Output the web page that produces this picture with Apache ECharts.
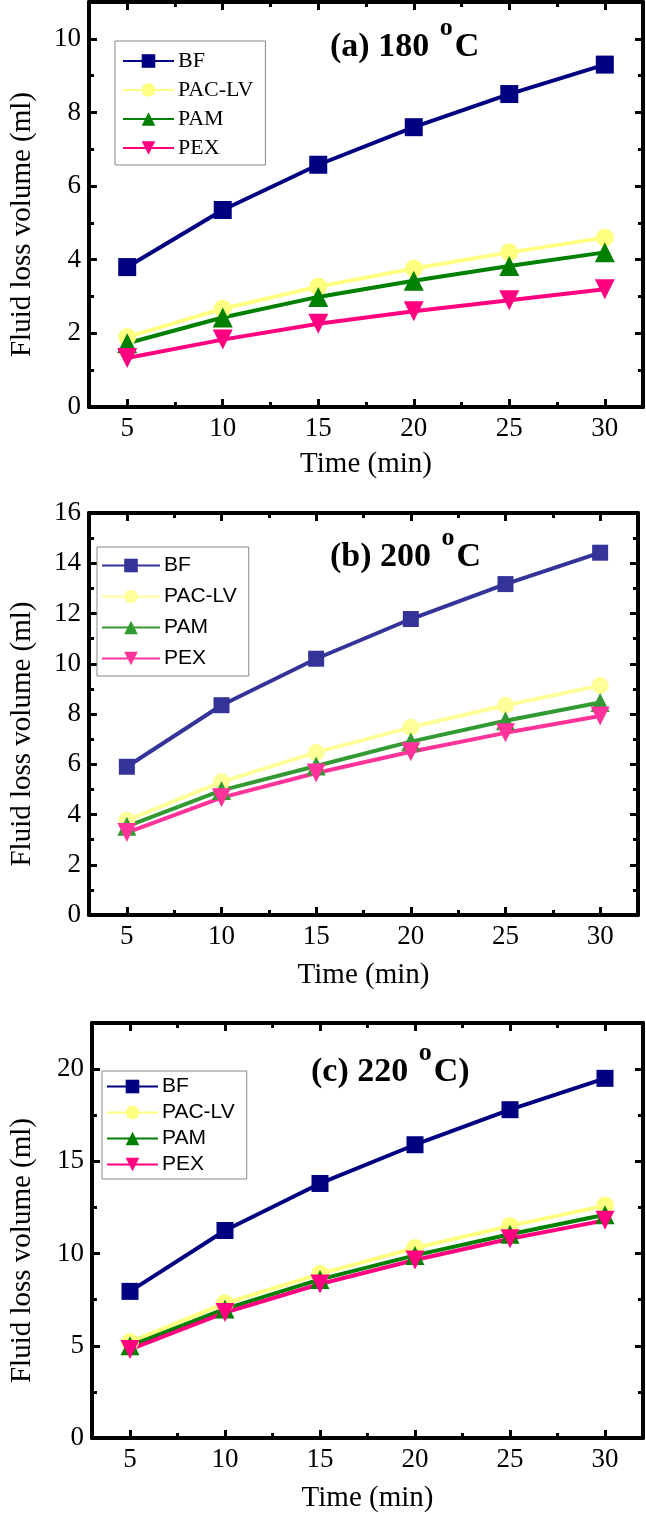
<!DOCTYPE html>
<html>
<head>
<meta charset="utf-8">
<script src="https://cdn.jsdelivr.net/npm/echarts@6/dist/echarts.min.js"></script>
<style>
html,body{margin:0;padding:0;background:#fff;}
#chart{width:646px;height:1514px;}
</style>
</head>
<body>
<div id="chart"></div>
<script>
// ---- data ----
const times = [5, 10, 15, 20, 25, 30];
const seriesNames = ['BF', 'PAC-LV', 'PAM', 'PEX'];
const xTicks = [5, 10, 15, 20, 25, 30];
const xMinorTicks = [7.5, 12.5, 17.5, 22.5, 27.5];

// (a) 180 oC
const bfA  = [3.8, 5.35, 6.58, 7.6, 8.5, 9.3];
const pacA = [1.9, 2.67, 3.27, 3.76, 4.2, 4.6];
const pamA = [1.73, 2.43, 2.99, 3.43, 3.83, 4.2];
const pexA = [1.33, 1.83, 2.26, 2.6, 2.9, 3.2];
const yTicksA = [0, 2, 4, 6, 8, 10];
const yMinorA = [1, 3, 5, 7, 9];

// (b) 200 oC
const bfB  = [5.9, 8.35, 10.2, 11.78, 13.17, 14.42];
const pacB = [3.77, 5.3, 6.47, 7.47, 8.35, 9.13];
const pamB = [3.53, 4.96, 5.93, 6.9, 7.73, 8.46];
const pexB = [3.28, 4.67, 5.65, 6.5, 7.25, 7.92];
const yTicksB = [0, 2, 4, 6, 8, 10, 12, 14, 16];
const yMinorB = [1, 3, 5, 7, 9, 11, 13, 15];

// (c) 220 oC
const bfC  = [7.95, 11.25, 13.8, 15.9, 17.8, 19.5];
const pacC = [5.2, 7.3, 8.9, 10.3, 11.5, 12.6];
const pamC = [5.0, 7.0, 8.6, 9.9, 11.05, 12.1];
const pexC = [4.8, 6.8, 8.35, 9.65, 10.8, 11.8];
const yTicksC = [0, 5, 10, 15, 20];
const yMinorC = [2.5, 7.5, 12.5, 17.5];

// ---- styling ----
const SERIF = "'Liberation Serif','Times New Roman',serif";
const SANS = "'Liberation Sans',Arial,sans-serif";

const panels = [
  {
    key: 'a', title: ['(a) 180 ', 'o', 'C'], values: [bfA, pacA, pamA, pexA],
    grid: {left: 79, top: 2, width: 564, height: 405},
    xRange: [3, 32], yRange: [0, 11], yTicks: yTicksA, yMinor: yMinorA,
    colors: ['#000080', '#ffff80', '#008000', '#ff0080'],
    sizes: [18, 18, 20, 20],
    titlePos: {left: 330, top: 15},
    legend: {left: 115, top: 41, font: SERIF, size: 22, itemWidth: 51, gap: 7, padding: [9, 12, 6, 7]},
    xNameGap: 43, yNameGap: 52
  },
  {
    key: 'b', title: ['(b) 200 ', 'o', 'C'], values: [bfB, pacB, pamB, pexB],
    grid: {left: 78, top: 513, width: 560, height: 402},
    xRange: [3, 32], yRange: [0, 16], yTicks: yTicksB, yMinor: yMinorB,
    colors: ['#333399', '#ffff99', '#339933', '#ff3399'],
    sizes: [16, 17, 19, 19],
    titlePos: {left: 330, top: 525},
    legend: {left: 97, top: 547, font: SANS, size: 21, itemWidth: 58, gap: 10, padding: [8, 12, 7, 4]},
    xNameGap: 46, yNameGap: 52
  },
  {
    key: 'c', title: ['(c) 220 ', 'o', 'C)'], values: [bfC, pacC, pamC, pexC],
    grid: {left: 86, top: 1023, width: 557, height: 415},
    xRange: [3, 32], yRange: [0, 22.5], yTicks: yTicksC, yMinor: yMinorC,
    colors: ['#000080', '#ffff80', '#008000', '#ff0080'],
    sizes: [17, 18, 19, 19],
    titlePos: {left: 311, top: 1040},
    legend: {left: 102, top: 1071, font: SANS, size: 21, itemWidth: 51, gap: 5, padding: [5, 12, 4, 4]},
    xNameGap: 46, yNameGap: 55
  }
];

const symbols = ['rect', 'circle', 'triangle', 'triangle'];
const rotations = [0, 0, 0, 180];

const option = {
  animation: false,
  backgroundColor: '#fff',
  grid: [], xAxis: [], yAxis: [], series: [], legend: [], title: []
};

function tickAxisBase(gi, range) {
  return {type: 'value', gridIndex: gi, min: range[0], max: range[1], splitLine: {show: false}};
}

panels.forEach((p, gi) => {
  option.grid.push(Object.assign({containLabel: false}, p.grid));
  const xb = option.xAxis.length;
  const yb = option.yAxis.length;
  const lineStyle = {color: '#000', width: 4};
  // x axes: bottom major (labels), bottom minor, top major, top minor
  option.xAxis.push(Object.assign(tickAxisBase(gi, p.xRange), {
    position: 'bottom',
    name: 'Time (min)', nameLocation: 'middle', nameGap: p.xNameGap,
    nameTextStyle: {fontFamily: SERIF, fontSize: 29, color: '#000'},
    axisLine: {show: true, onZero: false, lineStyle},
    axisTick: {show: true, inside: true, length: 8, lineStyle: {width: 3, color: '#000'}, customValues: xTicks},
    axisLabel: {show: true, margin: 8, fontFamily: SERIF, fontSize: 27, color: '#000', customValues: xTicks}
  }));
  option.xAxis.push(Object.assign(tickAxisBase(gi, p.xRange), {
    position: 'bottom',
    axisLine: {show: false, onZero: false},
    axisTick: {show: true, inside: true, length: 5, lineStyle: {width: 3, color: '#000'}, customValues: xMinorTicks},
    axisLabel: {show: false}
  }));
  option.xAxis.push(Object.assign(tickAxisBase(gi, p.xRange), {
    position: 'top',
    axisLine: {show: true, onZero: false, lineStyle},
    axisTick: {show: true, inside: true, length: 8, lineStyle: {width: 3, color: '#000'}, customValues: xTicks},
    axisLabel: {show: false}
  }));
  option.xAxis.push(Object.assign(tickAxisBase(gi, p.xRange), {
    position: 'top',
    axisLine: {show: false, onZero: false},
    axisTick: {show: true, inside: true, length: 5, lineStyle: {width: 3, color: '#000'}, customValues: xMinorTicks},
    axisLabel: {show: false}
  }));
  // y axes: left major (labels), left minor, right major, right minor
  option.yAxis.push(Object.assign(tickAxisBase(gi, p.yRange), {
    position: 'left',
    name: 'Fluid loss volume (ml)', nameLocation: 'middle', nameGap: p.yNameGap, nameRotate: 90,
    nameTextStyle: {fontFamily: SERIF, fontSize: 29, color: '#000', padding: [0, 40, 0, 0]},
    axisLine: {show: true, onZero: false, lineStyle},
    axisTick: {show: true, inside: true, length: 8, lineStyle: {width: 3, color: '#000'}, customValues: p.yTicks},
    axisLabel: {show: true, margin: 8, fontFamily: SERIF, fontSize: 27, color: '#000', customValues: p.yTicks}
  }));
  option.yAxis.push(Object.assign(tickAxisBase(gi, p.yRange), {
    position: 'left',
    axisLine: {show: false, onZero: false},
    axisTick: {show: true, inside: true, length: 5, lineStyle: {width: 3, color: '#000'}, customValues: p.yMinor},
    axisLabel: {show: false}
  }));
  option.yAxis.push(Object.assign(tickAxisBase(gi, p.yRange), {
    position: 'right',
    axisLine: {show: true, onZero: false, lineStyle},
    axisTick: {show: true, inside: true, length: 8, lineStyle: {width: 3, color: '#000'}, customValues: p.yTicks},
    axisLabel: {show: false}
  }));
  option.yAxis.push(Object.assign(tickAxisBase(gi, p.yRange), {
    position: 'right',
    axisLine: {show: false, onZero: false},
    axisTick: {show: true, inside: true, length: 5, lineStyle: {width: 3, color: '#000'}, customValues: p.yMinor},
    axisLabel: {show: false}
  }));

  const legendNames = [];
  seriesNames.forEach((nm, si) => {
    const full = p.key + '|' + nm;
    legendNames.push(full);
    option.series.push({
      type: 'line', name: full,
      xAxisIndex: xb, yAxisIndex: yb,
      data: times.map((t, i) => [t, p.values[si][i]]),
      symbol: symbols[si], symbolSize: p.sizes[si], symbolRotate: rotations[si],
      showSymbol: true,
      lineStyle: {color: p.colors[si], width: 4},
      itemStyle: {color: p.colors[si]},
      emphasis: {disabled: true}
    });
  });

  option.legend.push({
    orient: 'vertical', left: p.legend.left, top: p.legend.top,
    data: legendNames,
    formatter: n => n.split('|')[1],
    itemWidth: p.legend.itemWidth, itemHeight: 17, itemGap: p.legend.gap,
    padding: p.legend.padding,
    borderColor: '#888', borderWidth: 1, backgroundColor: '#fff',
    selectedMode: false,
    textStyle: {fontFamily: p.legend.font, fontSize: p.legend.size, color: '#000', lineHeight: 20, padding: [0, 0, 0, -1]}
  });

  option.title.push({
    text: '{m|' + p.title[0] + '}{s|' + p.title[1] + '}{m|' + p.title[2] + '}',
    left: p.titlePos.left, top: p.titlePos.top,
    padding: 0,
    textStyle: {
      rich: {
        m: {fontFamily: SERIF, fontWeight: 'bold', fontSize: 34, color: '#000', lineHeight: 64},
        s: {fontFamily: SERIF, fontWeight: 'bold', fontSize: 26, color: '#000', lineHeight: 28, verticalAlign: 'top', padding: [0, 2, 0, 2]}
      }
    }
  });
});

const chart = echarts.init(document.getElementById('chart'), null, {renderer: 'canvas'});
chart.setOption(option);
</script>
</body>
</html>
